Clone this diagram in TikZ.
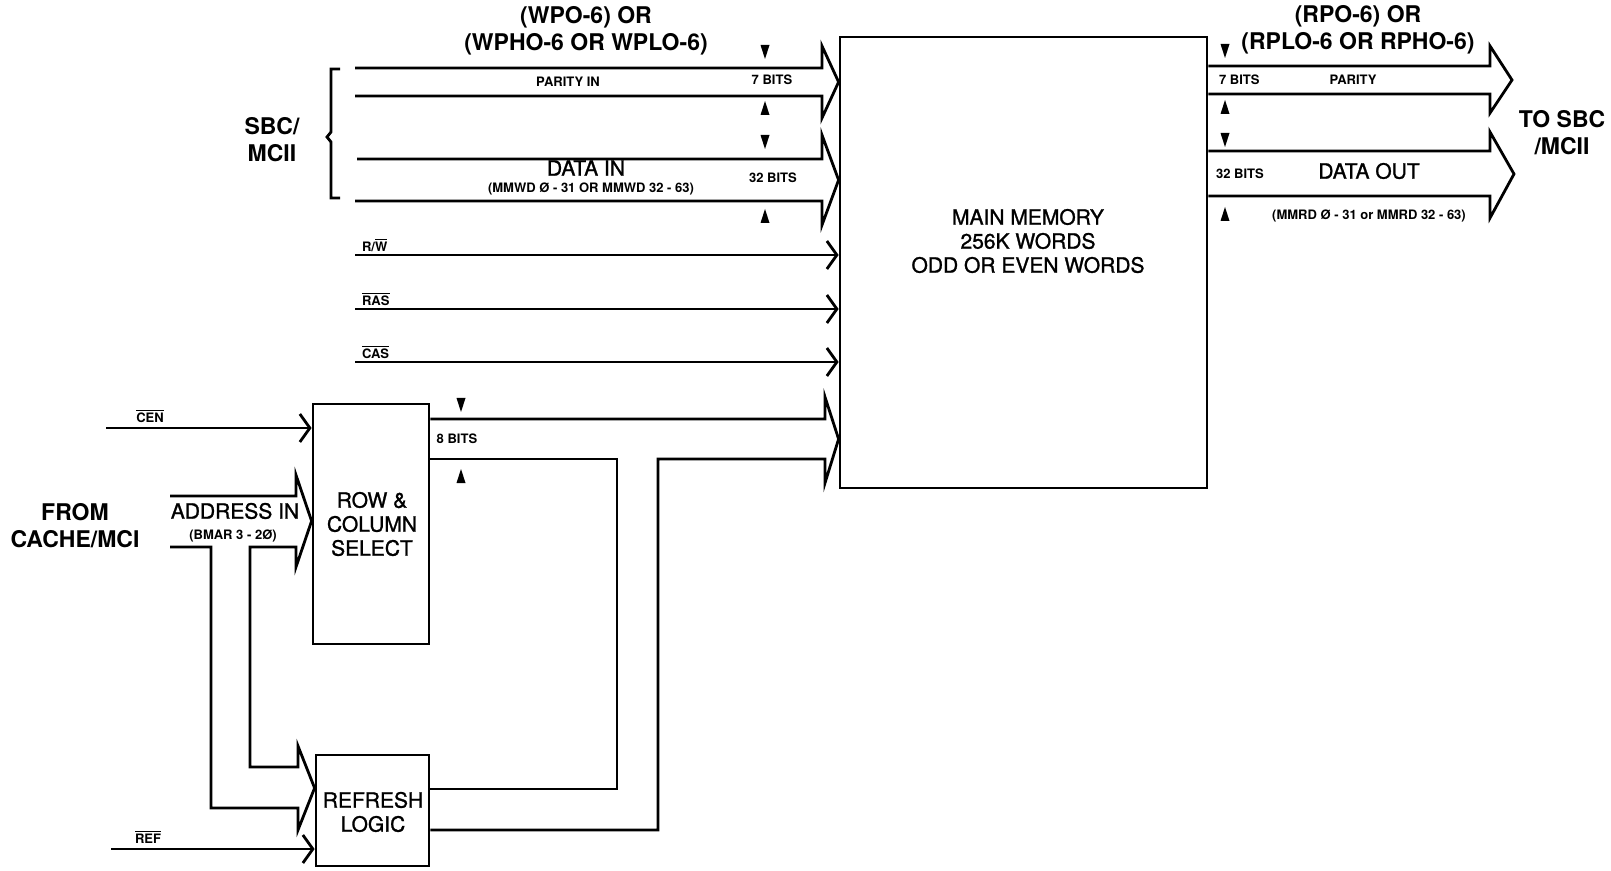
\documentclass[tikz,border=0pt]{standalone}
\usepackage{fontspec}
\setmainfont{TeX Gyre Heros}
\newfontfamily\medfont[FakeBold=1.2]{TeX Gyre Heros}
\usetikzlibrary{arrows.meta, positioning, fit}

\newcommand{\ovl}[1]{$\overline{\hbox{#1}}$}

\tikzset{
  box/.style={draw, line width=1.4pt, inner sep=0pt},
  bus/.style={line width=1.4pt, line join=miter},
  sig/.style={line width=1.4pt, -{Straight Barb[length=5pt, width=14pt, line width=1.4pt]}},
  title/.style={font=\fontsize{11.5}{13.5}\selectfont\bfseries, align=center},
  big/.style={font=\fontsize{10.5}{12}\selectfont\medfont, align=center},
  small/.style={font=\fontsize{6.5}{7.5}\selectfont\bfseries},
  tri down/.pic={\fill (-4.5,-7) -- (4.5,-7) -- (0,7) -- cycle;},
  tri up/.pic={\fill (-4.5,7) -- (4.5,7) -- (0,-7) -- cycle;},
}

\begin{document}
\begin{tikzpicture}[x=0.5pt, y=-0.5pt]
    \useasboundingbox (0,0) rectangle (1611,871);

    % Boxes
    \node[box, fit={(840,37) (1207,488)}] (mem) {};
    \node[box, fit={(313,404) (429,644)}] (rcs) {};
    \node[box, fit={(316,755) (429,866)}] (refl) {};

    \node[big] (memtxt) at (1028,241) {MAIN MEMORY\\256K WORDS\\ODD OR EVEN WORDS};
    \node[big] (rcstxt) at (372,524) {ROW \&\\COLUMN\\SELECT};
    \node[big] (refltxt) at (373,812) {REFRESH\\LOGIC};

    % Write buses from SBC/MCII
    \draw[bus] (355,68) -- (822,68) -- (822,46) -- (mem.west |- 0,82) -- (822,118) -- (822,96) -- (355,96);
    \draw[bus] (357,159) -- (822,159) -- (822,135) -- (mem.west |- 0,180) -- (822,225) -- (822,201) -- (355,201);
    \draw[bus] (340,69) -- (331,69) -- (331,132) -- (327,137) -- (331,142) -- (331,198) -- (340,198);

    \node[title] (wtitle) at (586,31) {(WPO-6) OR\\(WPHO-6 OR WPLO-6)};
    \node[title] (sbcin) at (272,140) {SBC/\\MCII};
    \node[small] (parin) at (568,82) {PARITY IN};
    \node[small] (bits7in) at (772,80) {7 BITS};
    \node[big] (datain) at (586,168) {DATA IN};
    \node[small] (mmwd) at (591,189) {(MMWD Ø - 31 OR MMWD 32 - 63)};
    \node[small] (bits32in) at (773,178) {32 BITS};
    \pic at (765,52) {tri down};
    \pic at (765,108) {tri up};
    \pic at (765,142) {tri down};
    \pic at (765,216) {tri up};

    % Control lines
    \node[small, anchor=west] (rwlbl) at (355,245) {R/\ovl{W}};
    \draw[sig] (355,255) -- (mem.west |- 0,255);
    \node[small, anchor=west] (raslbl) at (355,299) {\ovl{RAS}};
    \draw[sig] (355,309) -- (mem.west |- 0,309);
    \node[small, anchor=west] (caslbl) at (355,352) {\ovl{CAS}};
    \draw[sig] (355,362) -- (mem.west |- 0,362);

    % Read buses to SBC/MCII
    \draw[bus] (mem.east |- 0,66) -- (1490,66) -- (1490,46) -- (1512,80) -- (1490,113) -- (1490,94) -- (mem.east |- 0,94);
    \draw[bus] (mem.east |- 0,151) -- (1490,151) -- (1490,132) -- (1514,174) -- (1490,218) -- (1490,196) -- (mem.east |- 0,196);

    \node[title] (rtitle) at (1358,30) {(RPO-6) OR\\(RPLO-6 OR RPHO-6)};
    \node[title] (sbcout) at (1562,133) {TO SBC\\/MCII};
    \node[small, anchor=west] (bits7out) at (1212,80) {7 BITS};
    \node[small] (parout) at (1353,80) {PARITY};
    \node[small, anchor=west] (bits32out) at (1209,174) {32 BITS};
    \node[big] (dataout) at (1369,171) {DATA OUT};
    \node[small] (mmrd) at (1369,216) {(MMRD Ø - 31 or MMRD 32 - 63)};
    \pic at (1225,51) {tri down};
    \pic at (1225,107) {tri up};
    \pic at (1225,140) {tri down};
    \pic at (1225,214) {tri up};

    % Address bus and refresh branch
    \draw[bus] (170,496) -- (296,496) -- (296,475) -- (rcs.west |- 0,521) -- (296,567) -- (296,547) -- (250,547)
        -- (250,767) -- (298,767) -- (298,746) -- (refl.west |- 0,788) -- (298,830) -- (298,808)
        -- (211,808) -- (211,547) -- (170,547);
    \node[title] (from) at (75,526) {FROM\\CACHE/MCI};
    \node[big] (addrin) at (235,511) {ADDRESS IN};
    \node[small] (bmar) at (233,536) {(BMAR 3 - 2Ø)};

    \node[small] (cenlbl) at (150,416) {\ovl{CEN}};
    \draw[sig] (106,428) -- (rcs.west |- 0,428);
    \node[small] (reflbl) at (148,837) {\ovl{REF}};
    \draw[sig] (111,849) -- (refl.west |- 0,849);

    % 8 bit address bus into memory
    \draw[bus] (rcs.east |- 0,419) -- (825,419) -- (825,397) -- (mem.west |- 0,439) -- (825,483) -- (825,459)
        -- (658,459) -- (658,830) -- (refl.east |- 0,830);
    \draw[bus] (rcs.east |- 0,459) -- (617,459) -- (617,789) -- (refl.east |- 0,789);
    \node[small] (bits8) at (457,439) {8 BITS};
    \pic at (461,405) {tri down};
    \pic at (461,476) {tri up};

\end{tikzpicture}
\end{document}
